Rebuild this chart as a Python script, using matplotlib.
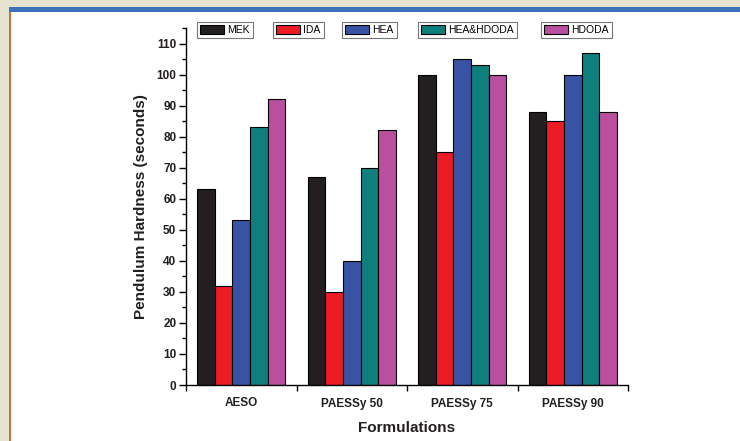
import numpy as np
import matplotlib
matplotlib.use('Agg')
import matplotlib.pyplot as plt
from matplotlib.patches import Rectangle
from matplotlib.ticker import MultipleLocator, FixedLocator

plt.rcParams['font.family'] = ['Liberation Sans', 'DejaVu Sans']

# data
formulations = ['AESO', 'PAESSy 50', 'PAESSy 75', 'PAESSy 90']
series = ['MEK', 'IDA', 'HEA', 'HEA&HDODA', 'HDODA']
mek = [63, 67, 100, 88]
ida = [32, 30, 75, 85]
hea = [53, 40, 105, 100]
hea_hdoda = [83, 70, 103, 107]
hdoda = [92, 82, 100, 88]
values = [mek, ida, hea, hea_hdoda, hdoda]
colors = ['#231f20', '#ed1c24', '#3953a4', '#0e7f7d', '#b94f9e']

W, H = 740, 441
fig = plt.figure(figsize=(7.4, 4.41), dpi=100)

# page frame around the figure
fig.add_artist(Rectangle((0, 0), 9 / W, 1, transform=fig.transFigure, color='#e6e2d0', lw=0))
fig.add_artist(Rectangle((0, 1 - 7 / H), 1, 7 / H, transform=fig.transFigure, color='#e6e2d0', lw=0))
fig.add_artist(Rectangle((9 / W, 1 - 12 / H), 1, 5 / H, transform=fig.transFigure, color='#3a72b8', lw=0))
fig.add_artist(Rectangle((9 / W, 0), 1.5 / W, 1 - 12 / H, transform=fig.transFigure, color='#c8703a', lw=0))

ax = fig.add_axes([186 / W, 1 - 385 / H, 442 / W, 357 / H])

x = np.arange(1, len(formulations) + 1)
bw = 0.16
for i, (name, vals) in enumerate(zip(series, values)):
    ax.bar(x + (i - 2) * bw, vals, bw, color=colors[i], edgecolor='black', linewidth=0.8, label=name)

ax.set_xlim(0.5, 4.5)
ax.set_ylim(0, 115)
ax.spines['top'].set_visible(False)
ax.spines['right'].set_visible(False)
for s in ['left', 'bottom']:
    ax.spines[s].set_linewidth(1.0)

ax.yaxis.set_major_locator(MultipleLocator(10))
ax.yaxis.set_minor_locator(MultipleLocator(5))
ax.set_xticks(x)
ax.set_xticklabels(formulations)
ax.xaxis.set_minor_locator(FixedLocator([0.5, 1.5, 2.5, 3.5, 4.5]))
ax.tick_params(axis='x', which='major', length=0, pad=9, labelsize=8.5)
ax.tick_params(axis='x', which='minor', direction='out', length=4, width=1)
ax.tick_params(axis='y', which='major', direction='out', length=5, width=1, labelsize=8.5, pad=2)
ax.tick_params(axis='y', which='minor', direction='out', length=3, width=1)
for lab in ax.get_xticklabels() + ax.get_yticklabels():
    lab.set_fontweight('bold')
    lab.set_color('#231f20')

ax.set_ylabel('Pendulum Hardness (seconds)', fontsize=11, fontweight='bold', labelpad=6, color='#231f20')
ax.set_xlabel('Formulations', fontsize=11, fontweight='bold', labelpad=8, color='#231f20')

# each legend entry gets its own small box
handles, labels = ax.get_legend_handles_labels()
lx = [197, 273, 342, 418, 541]
for h, l, px in zip(handles, labels, lx):
    leg = fig.legend([h], [l], loc='upper left', bbox_to_anchor=(px / W, 1 - 22 / H),
                     fontsize=7.5, frameon=True, fancybox=False, edgecolor='#555555',
                     handlelength=2.3, handleheight=0.95, handletextpad=0.3,
                     borderpad=0.3, borderaxespad=0)
    leg.get_frame().set_linewidth(0.8)

fig.savefig('out.png', dpi=100, facecolor='white')
